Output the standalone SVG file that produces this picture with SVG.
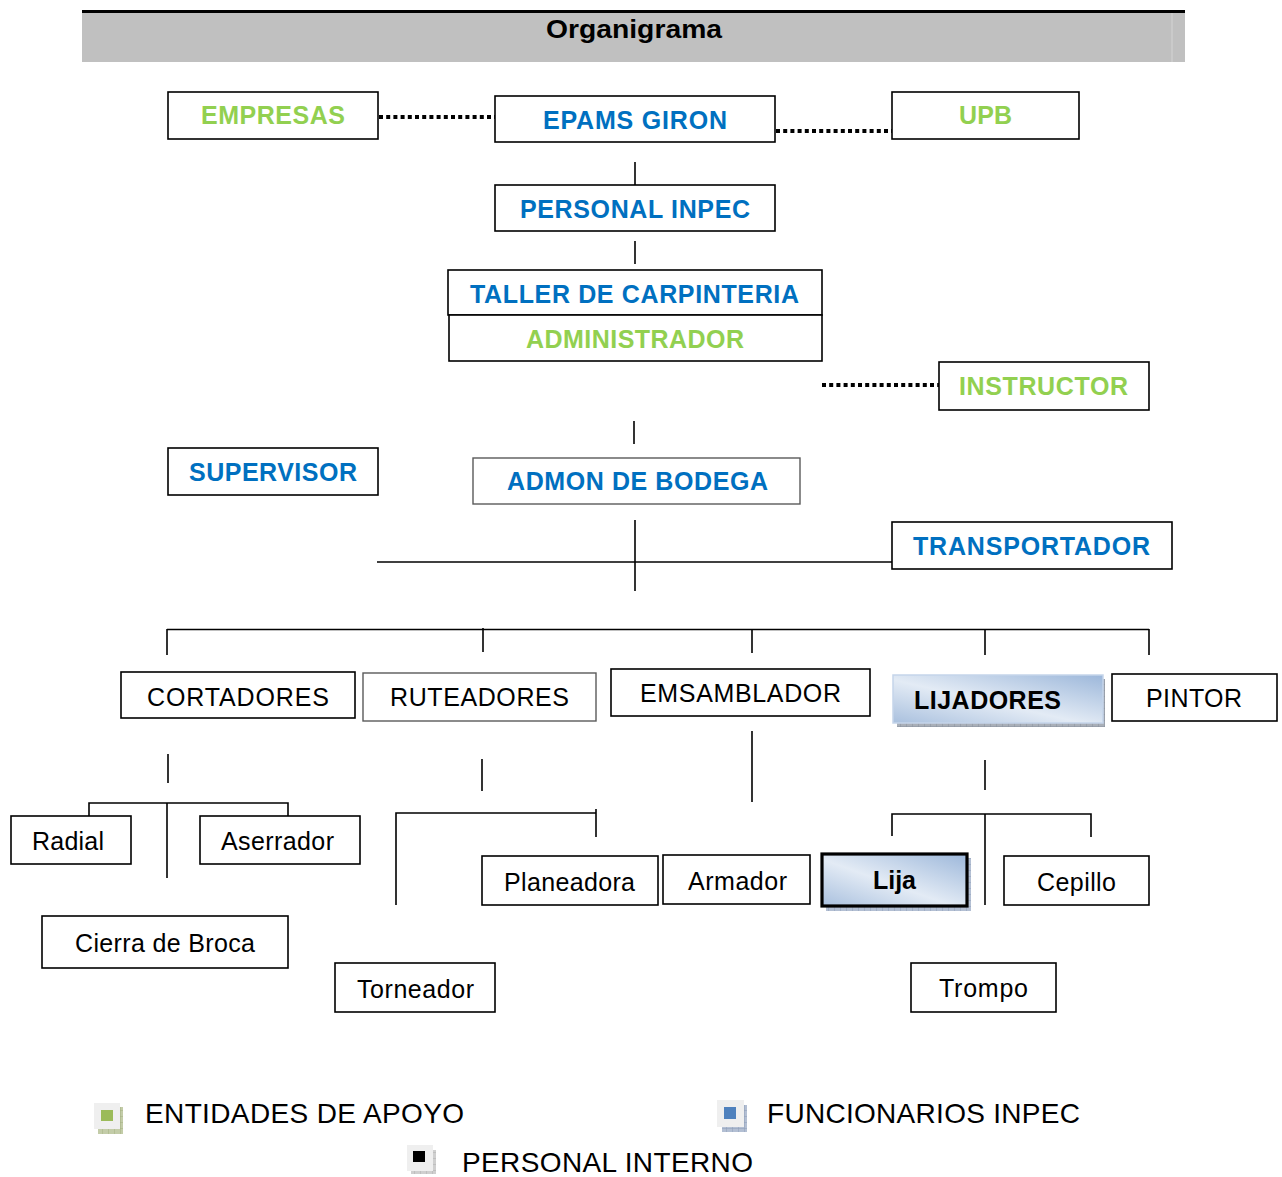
<svg xmlns="http://www.w3.org/2000/svg" width="1282" height="1177" viewBox="0 0 1282 1177">
  <defs>
    <style>
      .box { fill: #ffffff; stroke: #000000; stroke-width: 1.6; }
      .boxg { fill: #ffffff; stroke: #5a5a5a; stroke-width: 1.4; }
      .ln { stroke: #000000; stroke-width: 1.6; fill: none; }
      .dot { stroke: #000000; stroke-width: 4; stroke-dasharray: 4 3.2; fill: none; }
      .tb { font-family: "Liberation Sans", Arial, sans-serif; font-weight: bold; font-size: 25px; }
      .tn { font-family: "Liberation Sans", Arial, sans-serif; font-size: 25px; fill: #000000; }
      .tl { font-family: "Liberation Sans", Arial, sans-serif; font-size: 28px; fill: #000000; }
      .blue { fill: #0070c0; }
      .green { fill: #92d050; }
      .black { fill: #000000; }
    </style>
    <linearGradient id="gBlue" x1="0" y1="1" x2="1" y2="0">
      <stop offset="0" stop-color="#a9c0de"/>
      <stop offset="0.45" stop-color="#e3ebf5"/>
      <stop offset="1" stop-color="#9cb7da"/>
    </linearGradient>
    <pattern id="hatch" width="6" height="6" patternUnits="userSpaceOnUse">
      <rect width="6" height="6" fill="#a9afb8"/>
      <path d="M0 0H6M0 0V6" stroke="#8a929e" stroke-width="1"/>
    </pattern>
    <pattern id="hatchG" width="6" height="6" patternUnits="userSpaceOnUse">
      <rect width="6" height="6" fill="#c3cca8"/>
      <path d="M0 0H6M0 0V6" stroke="#a4b080" stroke-width="1"/>
    </pattern>
    <pattern id="hatchB" width="6" height="6" patternUnits="userSpaceOnUse">
      <rect width="6" height="6" fill="#b3bfd3"/>
      <path d="M0 0H6M0 0V6" stroke="#8d9db8" stroke-width="1"/>
    </pattern>
    <pattern id="hatchK" width="6" height="6" patternUnits="userSpaceOnUse">
      <rect width="6" height="6" fill="#cfcfcf"/>
      <path d="M0 0H6M0 0V6" stroke="#b0b0b0" stroke-width="1"/>
    </pattern>
  </defs>

  <rect width="1282" height="1177" fill="#ffffff"/>

  <!-- title band -->
  <g id="header">
    <rect x="82" y="12" width="1103" height="50" fill="#c0c0c0"/>
    <line x1="1172" y1="12" x2="1172" y2="62" stroke="#d4d4d4" stroke-width="1"/>
    <line x1="82" y1="11.5" x2="1185" y2="11.5" stroke="#000000" stroke-width="3"/>
    <text class="tb black" x="546" y="38" font-size="27" textLength="176" lengthAdjust="spacingAndGlyphs">Organigrama</text>
  </g>

  <!-- connectors -->
  <g id="connectors">
    <line class="dot" x1="379" y1="117" x2="495" y2="117"/>
    <line class="dot" x1="776" y1="131" x2="892" y2="131"/>
    <line class="ln" x1="635" y1="162" x2="635" y2="185"/>
    <line class="ln" x1="635" y1="241" x2="635" y2="264"/>
    <line class="dot" x1="822" y1="385" x2="939" y2="385"/>
    <line class="ln" x1="634" y1="421" x2="634" y2="444"/>
    <line class="ln" x1="377" y1="562" x2="892" y2="562"/>
    <line class="ln" x1="635" y1="520" x2="635" y2="591"/>
    <!-- main bus to work areas -->
    <line class="ln" x1="167" y1="629.5" x2="1149" y2="629.5"/>
    <line class="ln" x1="167" y1="629" x2="167" y2="655"/>
    <line class="ln" x1="483" y1="628" x2="483" y2="652"/>
    <line class="ln" x1="752" y1="629" x2="752" y2="653"/>
    <line class="ln" x1="985" y1="629" x2="985" y2="655"/>
    <line class="ln" x1="1149" y1="629" x2="1149" y2="655"/>
    <!-- cortadores -->
    <line class="ln" x1="168" y1="754" x2="168" y2="783"/>
    <polyline class="ln" points="89,816 89,803 288,803 288,816"/>
    <line class="ln" x1="167" y1="803" x2="167" y2="878"/>
    <!-- ruteadores -->
    <line class="ln" x1="482" y1="759" x2="482" y2="791"/>
    <polyline class="ln" points="396,905 396,813 596,813"/>
    <line class="ln" x1="596" y1="809" x2="596" y2="837"/>
    <!-- emsamblador -->
    <line class="ln" x1="752" y1="731" x2="752" y2="802"/>
    <!-- lijadores -->
    <line class="ln" x1="985" y1="760" x2="985" y2="790"/>
    <polyline class="ln" points="892,836 892,814 1091,814 1091,837"/>
    <line class="ln" x1="985" y1="814" x2="985" y2="905"/>
  </g>

  <!-- support entities and management -->
  <g id="empresas">
    <rect class="box" x="168" y="92" width="210" height="47"/>
    <text class="tb green" x="201" y="124" textLength="144">EMPRESAS</text>
  </g>
  <g id="epams-giron">
    <rect class="box" x="495" y="96" width="280" height="46"/>
    <text class="tb blue" x="543" y="129" textLength="184">EPAMS GIRON</text>
  </g>
  <g id="upb">
    <rect class="box" x="892" y="92" width="187" height="47"/>
    <text class="tb green" x="959" y="124" textLength="53">UPB</text>
  </g>
  <g id="personal-inpec">
    <rect class="box" x="495" y="185" width="280" height="46"/>
    <text class="tb blue" x="520" y="218" textLength="230">PERSONAL INPEC</text>
  </g>
  <g id="taller">
    <rect class="box" x="448" y="270" width="374" height="45"/>
    <text class="tb blue" x="470" y="303" textLength="329">TALLER DE CARPINTERIA</text>
  </g>
  <g id="administrador">
    <rect class="box" x="449" y="315" width="373" height="46"/>
    <text class="tb green" x="526" y="348" textLength="218">ADMINISTRADOR</text>
  </g>
  <g id="instructor">
    <rect class="box" x="939" y="362" width="210" height="48"/>
    <text class="tb green" x="959" y="395" textLength="169">INSTRUCTOR</text>
  </g>
  <g id="supervisor">
    <rect class="box" x="168" y="448" width="210" height="47"/>
    <text class="tb blue" x="189" y="481" textLength="168">SUPERVISOR</text>
  </g>
  <g id="admon-bodega">
    <rect class="boxg" x="473" y="458" width="327" height="46"/>
    <text class="tb blue" x="507" y="490" textLength="261">ADMON DE BODEGA</text>
  </g>
  <g id="transportador">
    <rect class="box" x="892" y="522" width="280" height="47"/>
    <text class="tb blue" x="913" y="555" textLength="237">TRANSPORTADOR</text>
  </g>

  <!-- work areas -->
  <g id="cortadores">
    <rect class="box" x="121" y="672" width="234" height="46"/>
    <text class="tn" x="147" y="706" textLength="182">CORTADORES</text>
  </g>
  <g id="ruteadores">
    <rect class="boxg" x="363" y="673" width="233" height="48"/>
    <text class="tn" x="390" y="706" textLength="179">RUTEADORES</text>
  </g>
  <g id="emsamblador">
    <rect class="box" x="611" y="669" width="259" height="47"/>
    <text class="tn" x="640" y="702" textLength="201">EMSAMBLADOR</text>
  </g>
  <g id="lijadores">
    <rect x="897" y="679" width="208" height="48" fill="url(#hatch)"/>
    <rect x="893" y="675" width="210" height="48" fill="url(#gBlue)" stroke="#c5d5ea" stroke-width="1.5"/>
    <text class="tb black" x="914" y="709" textLength="147">LIJADORES</text>
  </g>
  <g id="pintor">
    <rect class="box" x="1112" y="674" width="165" height="47"/>
    <text class="tn" x="1146" y="707" textLength="96">PINTOR</text>
  </g>

  <!-- tools and stations -->
  <g id="radial">
    <rect class="box" x="11" y="816" width="120" height="48"/>
    <text class="tn" x="32" y="850" textLength="72">Radial</text>
  </g>
  <g id="aserrador">
    <rect class="box" x="200" y="816" width="160" height="48"/>
    <text class="tn" x="221" y="850" textLength="113">Aserrador</text>
  </g>
  <g id="cierra-broca">
    <rect class="box" x="42" y="916" width="246" height="52"/>
    <text class="tn" x="75" y="952" textLength="180">Cierra de Broca</text>
  </g>
  <g id="planeadora">
    <rect class="box" x="482" y="856" width="176" height="49"/>
    <text class="tn" x="504" y="891" textLength="131">Planeadora</text>
  </g>
  <g id="torneador">
    <rect class="box" x="335" y="963" width="160" height="49"/>
    <text class="tn" x="357" y="998" textLength="117">Torneador</text>
  </g>
  <g id="armador">
    <rect class="box" x="663" y="855" width="147" height="49"/>
    <text class="tn" x="688" y="890" textLength="99">Armador</text>
  </g>
  <g id="lija">
    <rect x="826" y="858" width="145" height="53" fill="url(#hatchB)"/>
    <rect x="822" y="854" width="145" height="52" fill="url(#gBlue)" stroke="#000000" stroke-width="3.2"/>
    <text class="tb black" x="873" y="889" textLength="43">Lija</text>
  </g>
  <g id="cepillo">
    <rect class="box" x="1004" y="856" width="145" height="49"/>
    <text class="tn" x="1037" y="891" textLength="79">Cepillo</text>
  </g>
  <g id="trompo">
    <rect class="box" x="911" y="963" width="145" height="49"/>
    <text class="tn" x="939" y="997" textLength="89">Trompo</text>
  </g>

  <!-- legend -->
  <g id="legend-apoyo">
    <rect x="98" y="1107" width="25" height="27" fill="url(#hatchG)"/>
    <rect x="94" y="1103" width="26" height="26" fill="#efefef"/>
    <rect x="101" y="1110" width="12" height="11" fill="#9bbb59"/>
    <text class="tl" x="145" y="1123" textLength="319">ENTIDADES DE APOYO</text>
  </g>
  <g id="legend-inpec">
    <rect x="722" y="1105" width="25" height="27" fill="url(#hatchB)"/>
    <rect x="717" y="1100" width="27" height="27" fill="#efefef"/>
    <rect x="724" y="1107" width="12" height="12" fill="#4f81bd"/>
    <text class="tl" x="767" y="1123" textLength="313">FUNCIONARIOS INPEC</text>
  </g>
  <g id="legend-interno">
    <rect x="411" y="1150" width="25" height="24" fill="url(#hatchK)"/>
    <rect x="407" y="1145" width="26" height="26" fill="#efefef"/>
    <rect x="413" y="1151" width="12" height="11" fill="#000000"/>
    <text class="tl" x="462" y="1172" textLength="291">PERSONAL INTERNO</text>
  </g>
</svg>
